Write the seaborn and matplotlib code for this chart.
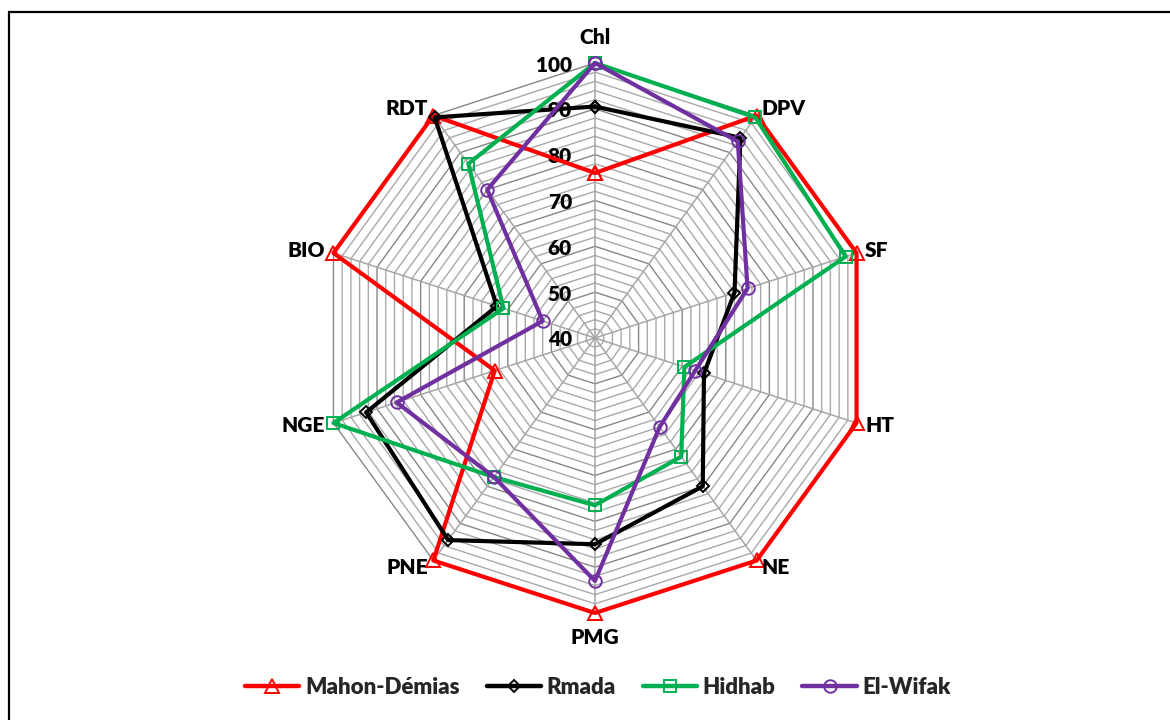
import numpy as np
import matplotlib
matplotlib.use("Agg")
import matplotlib.pyplot as plt
from matplotlib.lines import Line2D
from matplotlib.patches import Rectangle
import seaborn as sns

# Traits measured for each variety (scores on a 40-100 scale)
categories = ["Chl", "DPV", "SF", "HT", "NE", "PMG", "PNE", "NGE", "BIO", "RDT"]
mahon_demias = [76, 100, 100, 100, 100, 100, 100, 63, 100, 100]
rmada = [90.5, 94, 72, 65, 80, 85, 94.5, 92.5, 62.5, 99.5]
hidhab = [100, 99.5, 97.5, 60.5, 72, 76.5, 77.5, 100, 61, 87]
el_wifak = [100, 93, 75, 63, 64, 93, 77.5, 85.5, 52, 80]
series_names = ["Mahon-Démias", "Rmada", "Hidhab", "El-Wifak"]
radial_ticks = [40, 50, 60, 70, 80, 90, 100]

sns.set_theme(style="white")
plt.rcParams["font.family"] = ["Lato", "DejaVu Sans"]
plt.rcParams["font.weight"] = "heavy"

fig = plt.figure(figsize=(11.7, 7.2), dpi=100)
W, H = 1170, 720
cx, cy, R = 595, 338, 275
ax = fig.add_axes([(cx - R) / W, (H - cy - R) / H, 2 * R / W, 2 * R / H],
                  projection="polar")
ax.set_theta_zero_location("N")
ax.set_theta_direction(-1)

n = len(categories)
theta = np.linspace(0, 2 * np.pi, n, endpoint=False)
theta_closed = np.append(theta, 2 * np.pi)

# Polygonal web: a ring every 2 units, spokes for each trait
for r in np.arange(42, 101, 2):
    major = (r % 10 == 0)
    ax.plot(theta_closed, [r] * (n + 1), color="#868686" if major else "#a9a9a9",
            lw=1.0, zorder=1, clip_on=False)
for t in theta:
    ax.plot([t, t], [40, 100], color="#a6a6a6", lw=1.1, zorder=1, clip_on=False)

styles = [
    (mahon_demias, "#ff0000", "^", 10.5),
    (rmada, "#000000", "D", 6.5),
    (hidhab, "#00b050", "s", 8.5),
    (el_wifak, "#7030a0", "o", 9),
]
handles = []
for name, (vals, color, marker, ms) in zip(series_names, styles):
    sns.lineplot(x=theta_closed, y=np.append(vals, vals[0]), ax=ax, sort=False,
                 estimator=None, color=color, lw=3.0, marker=marker,
                 markersize=ms, markerfacecolor="none", markeredgecolor=color,
                 markeredgewidth=1.4, zorder=3, clip_on=False)
    handles.append(Line2D([], [], color=color, lw=3.2, marker=marker, markersize=ms,
                          markerfacecolor="none", markeredgecolor=color,
                          markeredgewidth=1.4, label=name))

ax.set_ylim(40, 100)
ax.grid(False)
ax.spines["polar"].set_visible(False)
ax.set_xticks([])
ax.set_yticks([])
ax.set_xlabel("")
ax.set_ylabel("")
ax.set_facecolor("none")

# Radial value labels along the top spoke
for v in radial_ticks:
    ax.annotate(str(v), xy=(0, v), xytext=(-23, -2), textcoords="offset pixels",
                ha="right", va="center", fontsize=15, fontweight="heavy",
                color="black", zorder=2)

# Trait names just outside the outer ring
for t, lab in zip(theta, categories):
    s, c = np.sin(t), np.cos(t)
    if abs(s) < 0.1:
        off = (0, 26 if c > 0 else -25)
        ha = "center"
    else:
        off = (9 * s, 9 * c)
        ha = "left" if s > 0 else "right"
    ax.annotate(lab, xy=(t, 100), xytext=off, textcoords="offset pixels",
                ha=ha, va="center", fontsize=15, fontweight="heavy", color="black",
                annotation_clip=False)

fig.legend(handles=handles, loc="center", bbox_to_anchor=(598 / W, 1 - 687 / H),
           ncol=4, frameon=False, handlelength=2.45,
           handletextpad=0.26, columnspacing=1.2,
           prop={"weight": "heavy", "size": 16})

# Outer frame of the chart area
fig.patches.append(Rectangle((9 / W, -0.1), 1.2, 1 - 12 / H + 0.1,
                             transform=fig.transFigure, fill=False,
                             edgecolor="black", lw=1.6))

fig.savefig("out.png", dpi=100, facecolor="white")
